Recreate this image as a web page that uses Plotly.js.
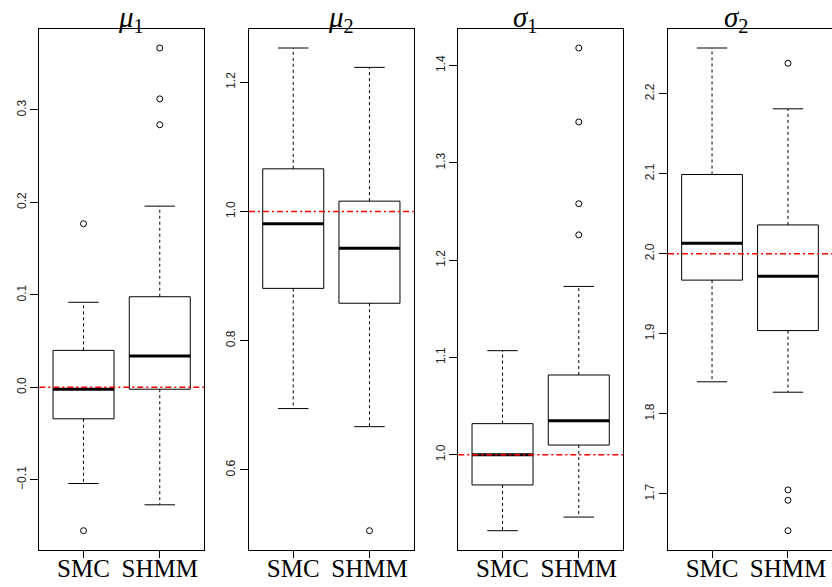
<!DOCTYPE html>
<html><head><meta charset="utf-8">
<script src="https://cdn.plot.ly/plotly-3.0.1.min.js"></script>
<style>html,body{margin:0;padding:0;background:#fff}</style>
</head><body><div id="chart" style="width:832px;height:587px"></div>
<script>
// ---------- data ----------
const groups = ['SMC', 'SHMM'];
const panelTitles = ['<i>μ</i><sub>1</sub>', '<i>μ</i><sub>2</sub>', '<i>σ</i><sub>1</sub>', '<i>σ</i><sub>2</sub>'];
const trueValues = [0.0, 1.0, 1.0, 2.0];

// mu1  [SMC, SHMM]
const mu1_lowerWhisker = [-0.104, -0.127];
const mu1_q1 = [-0.034, -0.002];
const mu1_median = [-0.002, 0.034];
const mu1_q3 = [0.040, 0.098];
const mu1_upperWhisker = [0.092, 0.196];
const mu1_outliers = [[0.177, -0.155], [0.367, 0.312, 0.284]];
const mu1_tickVals = [-0.1, 0.0, 0.1, 0.2, 0.3];
const mu1_tickLabels = ['\u22120.1', '0.0', '0.1', '0.2', '0.3'];

// mu2
const mu2_lowerWhisker = [0.695, 0.667];
const mu2_q1 = [0.881, 0.858];
const mu2_median = [0.981, 0.943];
const mu2_q3 = [1.066, 1.016];
const mu2_upperWhisker = [1.253, 1.223];
const mu2_outliers = [[], [0.506]];
const mu2_tickVals = [0.6, 0.8, 1.0, 1.2];
const mu2_tickLabels = ['0.6', '0.8', '1.0', '1.2'];

// sigma1
const s1_lowerWhisker = [0.922, 0.936];
const s1_q1 = [0.969, 1.010];
const s1_median = [1.000, 1.035];
const s1_q3 = [1.032, 1.082];
const s1_upperWhisker = [1.107, 1.173];
const s1_outliers = [[], [1.418, 1.342, 1.258, 1.226]];
const s1_tickVals = [1.0, 1.1, 1.2, 1.3, 1.4];
const s1_tickLabels = ['1.0', '1.1', '1.2', '1.3', '1.4'];

// sigma2
const s2_lowerWhisker = [1.840, 1.827];
const s2_q1 = [1.967, 1.904];
const s2_median = [2.013, 1.972];
const s2_q3 = [2.099, 2.036];
const s2_upperWhisker = [2.257, 2.181];
const s2_outliers = [[], [2.238, 1.705, 1.692, 1.654]];
const s2_tickVals = [1.7, 1.8, 1.9, 2.0, 2.1, 2.2];
const s2_tickLabels = ['1.7', '1.8', '1.9', '2.0', '2.1', '2.2'];

// ---------- build ----------
const panels = [
  {lw: mu1_lowerWhisker, q1: mu1_q1, med: mu1_median, q3: mu1_q3, uw: mu1_upperWhisker, out: mu1_outliers, tv: mu1_tickVals, tt: mu1_tickLabels},
  {lw: mu2_lowerWhisker, q1: mu2_q1, med: mu2_median, q3: mu2_q3, uw: mu2_upperWhisker, out: mu2_outliers, tv: mu2_tickVals, tt: mu2_tickLabels},
  {lw: s1_lowerWhisker, q1: s1_q1, med: s1_median, q3: s1_q3, uw: s1_upperWhisker, out: s1_outliers, tv: s1_tickVals, tt: s1_tickLabels},
  {lw: s2_lowerWhisker, q1: s2_q1, med: s2_median, q3: s2_q3, uw: s2_upperWhisker, out: s2_outliers, tv: s2_tickVals, tt: s2_tickLabels}
];

const W = 832, H = 587;
const plotLeftPx = [39.3, 249, 458.3, 668];
const plotWidthPx = 164.7;
const yDomain = [(H - 550) / H, (H - 28.7) / H];
const titleCenterPx = [131, 340.5, 525.3, 736];
const BOX_HALF = 0.4, CAP_HALF = 0.2;
const serif = 'Liberation Serif, Times New Roman, serif';
const sans = 'Liberation Sans, Arial, sans-serif';

const traces = [], shapes = [], annotations = [];
const layout = {
  width: W, height: H, margin: {l: 0, r: 0, t: 0, b: 0},
  paper_bgcolor: '#fff', plot_bgcolor: '#fff', showlegend: false,
  shapes: shapes, annotations: annotations
};

panels.forEach((p, k) => {
  const n = k + 1;
  const xa = 'x' + (n === 1 ? '' : n), ya = 'y' + (n === 1 ? '' : n);
  const xs = groups.map((g, i) => i + 1);

  traces.push({
    type: 'box', xaxis: xa, yaxis: ya, x: xs,
    q1: p.q1, median: p.med, q3: p.q3, lowerfence: p.q1, upperfence: p.q3,
    width: 2 * BOX_HALF, whiskerwidth: 0, boxpoints: false,
    fillcolor: 'rgba(255,255,255,0)', line: {color: '#000', width: 1}, hoverinfo: 'skip'
  });
  const wx = [], wy = [], cx = [], cy = [], mx = [], my = [], ox = [], oy = [];
  xs.forEach((x, i) => {
    wx.push(x, x, null, x, x, null);
    wy.push(p.q3[i], p.uw[i], null, p.q1[i], p.lw[i], null);
    cx.push(x - CAP_HALF, x + CAP_HALF, null, x - CAP_HALF, x + CAP_HALF, null);
    cy.push(p.uw[i], p.uw[i], null, p.lw[i], p.lw[i], null);
    mx.push(x - BOX_HALF, x + BOX_HALF, null);
    my.push(p.med[i], p.med[i], null);
    p.out[i].forEach(v => { ox.push(x); oy.push(v); });
  });
  traces.push({type: 'scatter', mode: 'lines', xaxis: xa, yaxis: ya, x: wx, y: wy,
    line: {color: '#000', width: 1, dash: '3px,3px'}, hoverinfo: 'skip'});
  traces.push({type: 'scatter', mode: 'lines', xaxis: xa, yaxis: ya, x: cx, y: cy,
    line: {color: '#000', width: 1}, hoverinfo: 'skip'});
  traces.push({type: 'scatter', mode: 'lines', xaxis: xa, yaxis: ya, x: mx, y: my,
    line: {color: '#000', width: 3}, hoverinfo: 'skip'});
  traces.push({type: 'scatter', mode: 'markers', xaxis: xa, yaxis: ya, x: ox, y: oy,
    marker: {symbol: 'circle-open', size: 6, color: '#000', line: {width: 1}}, hoverinfo: 'skip'});

  const all = [].concat(p.lw, p.uw, ...p.out);
  const lo = Math.min(...all), hi = Math.max(...all), pad = 0.04 * (hi - lo);

  const x0 = plotLeftPx[k] / W, x1 = Math.min(1, (plotLeftPx[k] + plotWidthPx) / W);
  layout['xaxis' + (n === 1 ? '' : n)] = {
    domain: [x0, x1], anchor: ya, range: [0.42, 2.58],
    tickmode: 'array', tickvals: xs, ticktext: groups,
    ticks: 'outside', ticklen: 7, tickwidth: 1, tickcolor: '#000',
    ticklabelstandoff: -11,
    showline: true, mirror: true, linecolor: '#000', linewidth: 1,
    showgrid: false, zeroline: false, fixedrange: true,
    tickfont: {family: serif, size: 25, color: '#000'}
  };
  layout['yaxis' + (n === 1 ? '' : n)] = {
    domain: yDomain, anchor: xa, range: [lo - pad, hi + pad],
    tickmode: 'array', tickvals: p.tv, ticktext: p.tt, tickangle: -90,
    ticks: 'outside', ticklen: 8, tickwidth: 1, tickcolor: '#000',
    showline: true, mirror: n === 4 ? false : true, linecolor: '#000', linewidth: 1,
    showgrid: false, zeroline: false, fixedrange: true,
    tickfont: {family: sans, size: 12, color: '#222'}
  };
  shapes.push({type: 'line', xref: xa + ' domain', yref: ya, x0: 0, x1: 1,
    y0: trueValues[k], y1: trueValues[k], layer: 'above',
    line: {color: '#ff0000', width: 1.5, dash: '6px,3px,2px,3px'}});
  annotations.push({xref: 'paper', yref: 'paper', x: titleCenterPx[k] / W, y: 1,
    xanchor: 'center', yanchor: 'top', showarrow: false, text: panelTitles[k],
    font: {family: serif, size: 29, color: '#000'}, borderpad: 0, yshift: 0});
});

Plotly.newPlot('chart', traces, layout, {staticPlot: true, displayModeBar: false});
</script>
</body></html>
